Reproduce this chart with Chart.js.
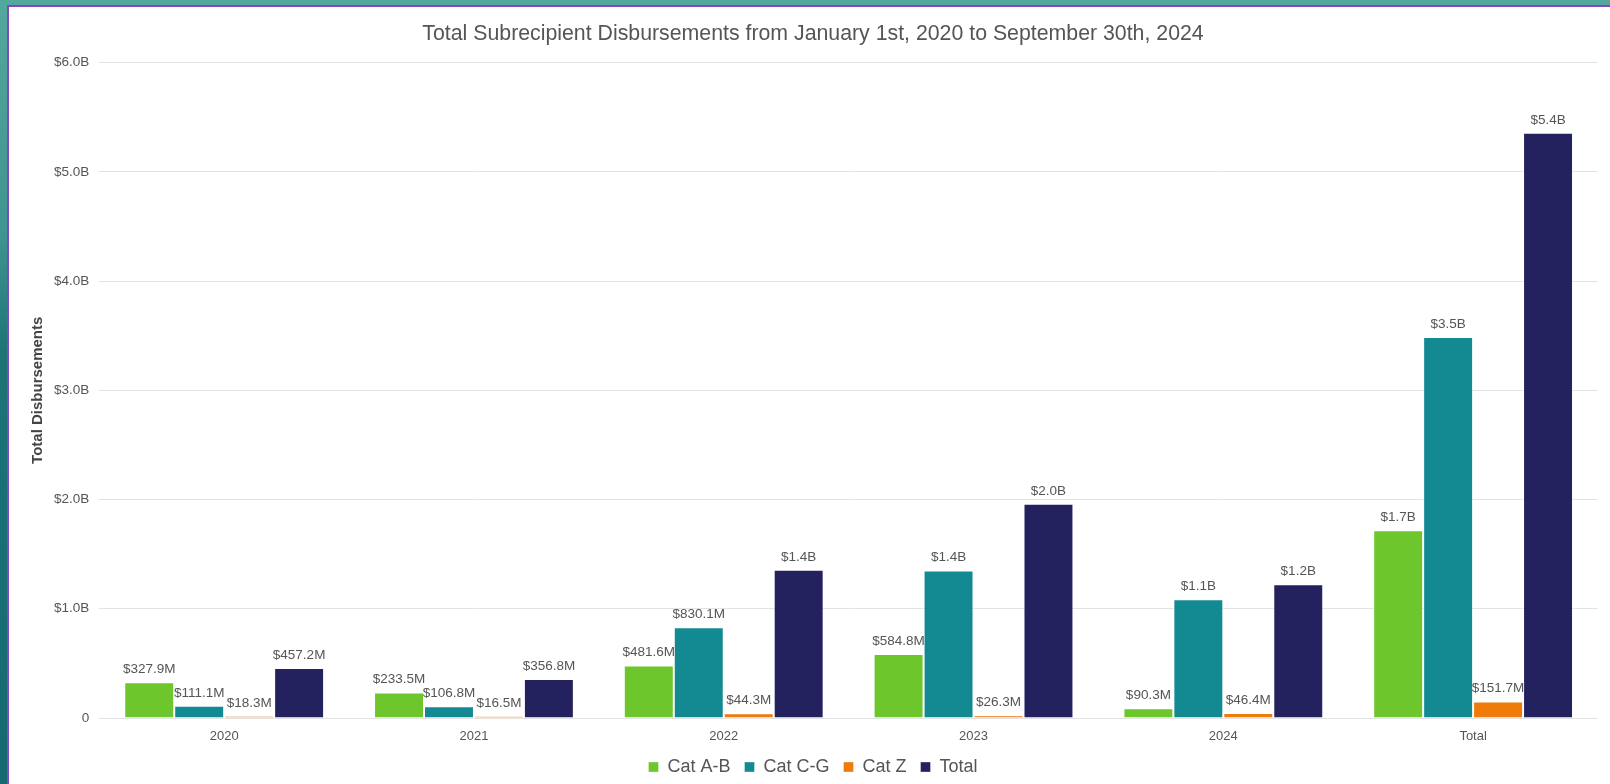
<!DOCTYPE html>
<html>
<head>
<meta charset="utf-8">
<title>Total Subrecipient Disbursements</title>
<script src="https://cdn.jsdelivr.net/npm/chart.js@4.4.1/dist/chart.umd.min.js"></script>
<style>
  html, body {
    margin: 0;
    width: 1610px;
    height: 784px;
    overflow: hidden;
    background: linear-gradient(180deg, #52a89d 0%, #3f958f 30%, #1c7477 45%, #146a70 100%);
  }
  #panel {
    position: absolute;
    left: 7px;
    top: 5px;
    width: 1603px;
    height: 779px;
    background: #fff;
    border-left: 2px solid #8845be;
    border-top: 2px solid #8845be;
    box-sizing: border-box;
  }
  #panel canvas { display: block; }
</style>
</head>
<body>
<div id="panel"><canvas id="disbChart"></canvas></div>
<script>
  // values in millions of dollars
  const years = ['2020', '2021', '2022', '2023', '2024', 'Total'];
  const catAB = [327.9, 233.5, 481.6, 584.8, 90.3, 1718.1];
  const catCG = [111.1, 106.8, 830.1, 1351, 1088, 3487];
  const catZ = [18.3, 16.5, 44.3, 26.3, 46.4, 151.7];
  const totals = [457.2, 356.8, 1356, 1962, 1225, 5357];
  const yTicks = [0, 1000, 2000, 3000, 4000, 5000, 6000];

  const fontFamily = '"Liberation Sans", Arial, Helvetica, sans-serif';

  function money(v) {
    if (v >= 1000) return '$' + (v / 1000).toFixed(1) + 'B';
    return '$' + v.toFixed(1) + 'M';
  }

  // draws the value above each bar
  const barLabels = {
    id: 'barLabels',
    afterDatasetsDraw(chart) {
      const ctx = chart.ctx;
      ctx.save();
      ctx.font = '13.5px ' + fontFamily;
      ctx.fillStyle = '#555';
      ctx.textAlign = 'center';
      ctx.textBaseline = 'bottom';
      chart.data.datasets.forEach((ds, i) => {
        const meta = chart.getDatasetMeta(i);
        if (meta.hidden) return;
        meta.data.forEach((bar, j) => {
          ctx.fillText(money(ds.data[j]), bar.x, bar.y - 6);
        });
      });
      ctx.restore();
    }
  };

  function barSet(label, data, color) {
    return {
      label,
      data,
      backgroundColor: color,
      borderColor: 'rgba(255, 255, 255, 0.35)',
      borderWidth: 1,
      categoryPercentage: 0.8,
      barPercentage: 1.0
    };
  }

  const ctx = document.getElementById('disbChart').getContext('2d');
  const chart = new Chart(ctx, {
    type: 'bar',
    data: {
      labels: years,
      datasets: [
        barSet('Cat A-B', catAB, '#6cc62c'),
        barSet('Cat C-G', catCG, '#138a92'),
        barSet('Cat Z', catZ, '#ef7b0a'),
        barSet('Total', totals, '#24215f')
      ]
    },
    options: {
      responsive: true,
      maintainAspectRatio: false,
      animation: false,
      layout: {
        padding: { left: 19, right: 12, bottom: 0 }
      },
      scales: {
        x: {
          grid: { display: false, drawTicks: false },
          border: { display: false },
          afterFit: axis => { axis.height = 26; },
          ticks: {
            color: '#555',
            padding: 11,
            font: { family: fontFamily, size: 13 }
          }
        },
        y: {
          min: 0,
          max: 6000,
          afterBuildTicks: axis => {
            axis.ticks = yTicks.map(v => ({ value: v }));
          },
          grid: { color: '#e3e3e3', drawTicks: false },
          border: { display: false },
          ticks: {
            color: '#555',
            padding: 10,
            font: { family: fontFamily, size: 13.5 },
            callback: v => v === 0 ? '0' : '$' + (v / 1000).toFixed(1) + 'B'
          },
          title: {
            display: true,
            text: 'Total Disbursements',
            color: '#444',
            padding: { top: 1, bottom: -3 },
            font: { family: fontFamily, size: 15, weight: 'bold' }
          }
        }
      },
      plugins: {
        title: {
          display: true,
          text: 'Total Subrecipient Disbursements from January 1st, 2020 to September 30th, 2024',
          color: '#555',
          padding: { top: 14, bottom: 16 },
          font: { family: fontFamily, size: 21.3, weight: 'normal' }
        },
        legend: {
          position: 'bottom',
          maxHeight: 40,
          labels: {
            color: '#555',
            boxWidth: 10,
            boxHeight: 10,
            padding: 14,
            font: { family: fontFamily, size: 18 }
          }
        },
        tooltip: { enabled: false }
      }
    },
    plugins: [barLabels]
  });
</script>
</body>
</html>
